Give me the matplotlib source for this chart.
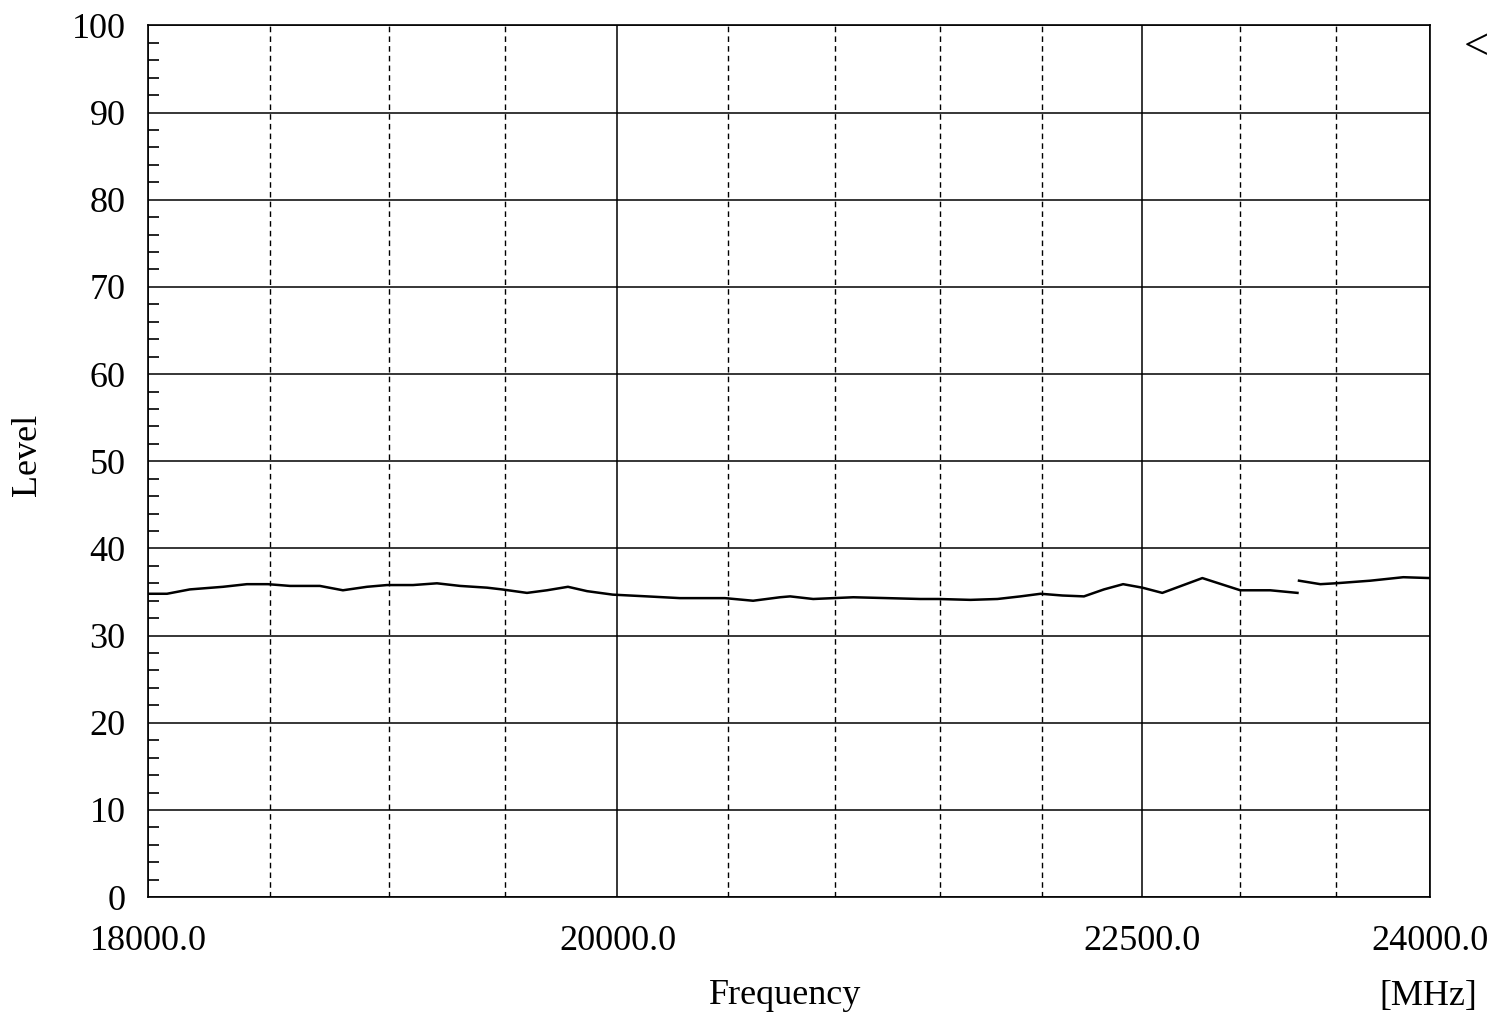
import numpy as np
import matplotlib
matplotlib.use("Agg")
import matplotlib.pyplot as plt
from matplotlib.ticker import NullFormatter, FixedLocator

plt.rcParams['font.family'] = ['Liberation Serif', 'DejaVu Serif']

freq = [18000, 18077, 18170, 18306, 18404, 18491, 18583, 18708, 18805, 18907,
        18992, 19103, 19206, 19306, 19423, 19488, 19598, 19686, 19779, 19864,
        19979, 20133, 20282, 20488, 20618, 20743, 20790, 20898, 21087, 21249,
        21407, 21494, 21649, 21780, 21893, 21992, 22100, 22207, 22307, 22403,
        22500, 22601, 22805, 23000, 23155, 23297,
        np.nan,
        23305, 23417, 23496, 23681, 23857, 24000]
level = [34.8, 34.8, 35.3, 35.6, 35.9, 35.9, 35.7, 35.7, 35.2, 35.6,
         35.8, 35.8, 36.0, 35.7, 35.5, 35.3, 34.9, 35.2, 35.6, 35.1,
         34.7, 34.5, 34.3, 34.3, 34.0, 34.4, 34.5, 34.2, 34.4, 34.3,
         34.2, 34.2, 34.1, 34.2, 34.5, 34.8, 34.6, 34.5, 35.3, 35.9,
         35.5, 34.9, 36.6, 35.2, 35.2, 34.9,
         np.nan,
         36.3, 35.9, 36.0, 36.3, 36.7, 36.6]

major_freq = [18000, 20000, 22500, 24000]
major_labels = ["18000.0", "20000.0", "22500.0", "24000.0"]
minor_freq = [18500, 19000, 19500, 20500, 21000, 21500, 22000, 23000, 23500]
y_ticks = list(range(0, 101, 10))

fig = plt.figure(figsize=(14.9, 10.16), dpi=100)
ax = fig.add_axes([0.0993, 0.117, 0.8604, 0.858])

ax.plot(freq, level, color='black', lw=1.8)

ax.set_xscale('log')
ax.set_xlim(18000, 24000)
ax.set_ylim(0, 100)

ax.xaxis.set_major_locator(FixedLocator(major_freq))
ax.xaxis.set_minor_locator(FixedLocator(minor_freq))
ax.set_xticklabels(major_labels)
ax.xaxis.set_minor_formatter(NullFormatter())
ax.set_yticks(y_ticks)
ax.set_yticks(np.arange(0, 101, 2), minor=True)

ax.grid(which='major', axis='both', color='black', lw=1.1)
ax.grid(which='minor', axis='x', color='black', lw=1.0, linestyle=(0, (4, 3)))

ax.tick_params(axis='x', which='both', length=0, pad=20, labelsize=26)
ax.tick_params(axis='y', which='major', length=0, pad=16, labelsize=26)
ax.tick_params(axis='y', which='minor', direction='in', length=8, width=1.2)
for s in ax.spines.values():
    s.set_linewidth(1.2)

fig.text(28 / 1490, 1 - 455 / 1016, "Level", fontsize=26, rotation=90, ha='center', va='center')
fig.text(785 / 1490, 1 - 996 / 1016, "Frequency", fontsize=26, ha='center', va='center')
fig.text(1428 / 1490, 1 - 997 / 1016, "[MHz]", fontsize=26, ha='center', va='center')
fig.text(1476 / 1490, 1 - 48 / 1016, "<", fontsize=32, ha='center', va='center')

fig.savefig("out.png", dpi=100, facecolor='white')
